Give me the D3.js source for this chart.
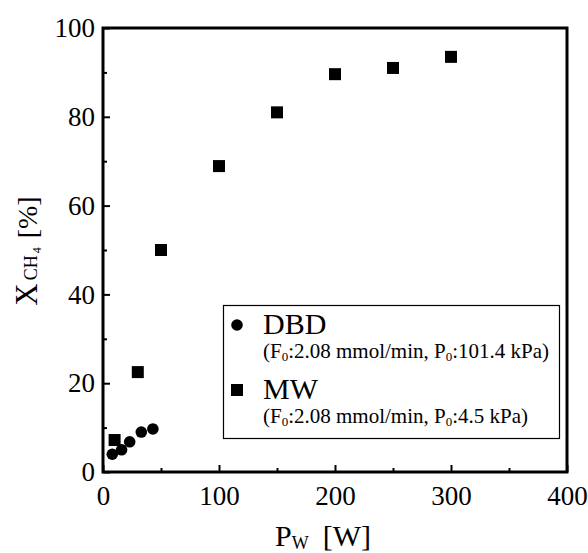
<!DOCTYPE html>
<html>
<head>
<meta charset="utf-8">
<script src="https://cdn.jsdelivr.net/npm/d3@7/dist/d3.min.js"></script>
<style>
  body { margin: 0; background: #fff; }
  svg text { font-family: "Liberation Serif", "DejaVu Serif", "Times New Roman", Times, serif !important; fill: #000; }
</style>
</head>
<body>
<div id="wrapper"></div>
<script>
// DBD series
const dbdPower = [8, 16, 23, 33, 43];
const dbdConv = [4.0, 5.0, 6.8, 9.0, 9.7];
// MW series
const mwPower = [10, 30, 50, 100, 150, 200, 250, 300];
const mwConv = [7.2, 22.5, 50, 68.9, 81, 89.6, 91, 93.5];

const xTicks = [0, 100, 200, 300, 400];
const xMinor = [50, 150, 250, 350];
const yTicks = [0, 20, 40, 60, 80, 100];
const yMinor = [10, 30, 50, 70, 90];

const dimensions = {
  width: 588,
  height: 553,
  margin: { top: 28, right: 21, bottom: 81, left: 103 },
};
dimensions.boundedWidth = dimensions.width - dimensions.margin.left - dimensions.margin.right;
dimensions.boundedHeight = dimensions.height - dimensions.margin.top - dimensions.margin.bottom;

const wrapper = d3.select("#wrapper")
  .append("svg")
  .attr("width", dimensions.width)
  .attr("height", dimensions.height);

const bounds = wrapper.append("g")
  .attr("transform", `translate(${dimensions.margin.left},${dimensions.margin.top})`);

const xScale = d3.scaleLinear().domain([0, 400]).range([0, dimensions.boundedWidth]);
const yScale = d3.scaleLinear().domain([0, 100]).range([dimensions.boundedHeight, 0]);

// minor ticks
bounds.append("g")
  .attr("transform", `translate(0,${dimensions.boundedHeight})`)
  .call(d3.axisBottom(xScale).tickValues(xMinor).tickSize(-4).tickFormat(""))
  .call(g => g.select(".domain").remove());
bounds.append("g")
  .call(d3.axisLeft(yScale).tickValues(yMinor).tickSize(-4).tickFormat(""))
  .call(g => g.select(".domain").remove());

// major ticks + labels
const xAxis = bounds.append("g")
  .attr("transform", `translate(0,${dimensions.boundedHeight})`)
  .call(d3.axisBottom(xScale).tickValues(xTicks).tickSize(-7).tickPadding(14));
const yAxis = bounds.append("g")
  .call(d3.axisLeft(yScale).tickValues(yTicks).tickSize(-7).tickPadding(8));

[xAxis, yAxis].forEach(ax => {
  ax.select(".domain").remove();
  ax.attr("font-family", null);
  ax.selectAll("text").attr("font-size", 27);
});
bounds.selectAll(".tick line").attr("stroke", "#000").attr("stroke-width", 2);

// frame
bounds.append("rect")
  .attr("x", xScale(0))
  .attr("y", yScale(100))
  .attr("width", xScale(400) - xScale(0))
  .attr("height", yScale(0) - yScale(100))
  .attr("fill", "none")
  .attr("stroke", "#000")
  .attr("stroke-width", 3);

// data points
const dbd = dbdPower.map((p, i) => ({ p, v: dbdConv[i] }));
const mw = mwPower.map((p, i) => ({ p, v: mwConv[i] }));

const sq = 12;
bounds.append("g").selectAll("rect")
  .data(mw).enter().append("rect")
  .attr("x", d => xScale(d.p) - sq / 2)
  .attr("y", d => yScale(d.v) - sq / 2)
  .attr("width", sq)
  .attr("height", sq)
  .attr("fill", "#000");

bounds.append("g").selectAll("circle")
  .data(dbd).enter().append("circle")
  .attr("cx", d => xScale(d.p))
  .attr("cy", d => yScale(d.v))
  .attr("r", 5.8)
  .attr("fill", "#000");

// legend
const legend = wrapper.append("g");
legend.append("rect")
  .attr("x", 223.5).attr("y", 305.5)
  .attr("width", 336).attr("height", 133)
  .attr("fill", "#fff")
  .attr("stroke", "#000")
  .attr("stroke-width", 1.2);
legend.append("circle").attr("cx", 237).attr("cy", 325).attr("r", 5.8).attr("fill", "#000");
legend.append("rect").attr("x", 231).attr("y", 384).attr("width", sq).attr("height", sq).attr("fill", "#000");

legend.append("text").attr("x", 263).attr("y", 334).attr("font-size", 30).text("DBD");
legend.append("text").attr("x", 263).attr("y", 399).attr("font-size", 30).text("MW");

function paramLine(y, p0) {
  const t = legend.append("text").attr("x", 263).attr("y", y).attr("font-size", 21);
  t.append("tspan").text("(F");
  t.append("tspan").attr("font-size", 13).attr("dy", 3).text("0");
  t.append("tspan").attr("dy", -3).text(":2.08 mmol/min, P");
  t.append("tspan").attr("font-size", 13).attr("dy", 3).text("0");
  t.append("tspan").attr("dy", -3).text(":" + p0 + " kPa)");
}
paramLine(358, "101.4");
paramLine(423, "4.5");

// axis titles
const xLabel = wrapper.append("text")
  .attr("x", 323).attr("y", 546)
  .attr("text-anchor", "middle")
  .attr("font-size", 30);
xLabel.append("tspan").text("P");
xLabel.append("tspan").attr("font-size", 18).attr("dy", 3).text("W");
xLabel.append("tspan").attr("dy", -3).attr("dx", 14).text("[W]");

const yLabel = wrapper.append("text")
  .attr("transform", "translate(37,251) rotate(-90)")
  .attr("text-anchor", "middle")
  .attr("font-size", 31);
yLabel.append("tspan").text("X");
yLabel.append("tspan").attr("font-size", 18).attr("dx", 3).text("CH");
yLabel.append("tspan").attr("font-size", 12).attr("dy", 4).attr("dx", 2).text("4");
yLabel.append("tspan").attr("dy", -4).attr("font-size", 28).attr("dx", 9).text("[%]");
</script>
</body>
</html>
